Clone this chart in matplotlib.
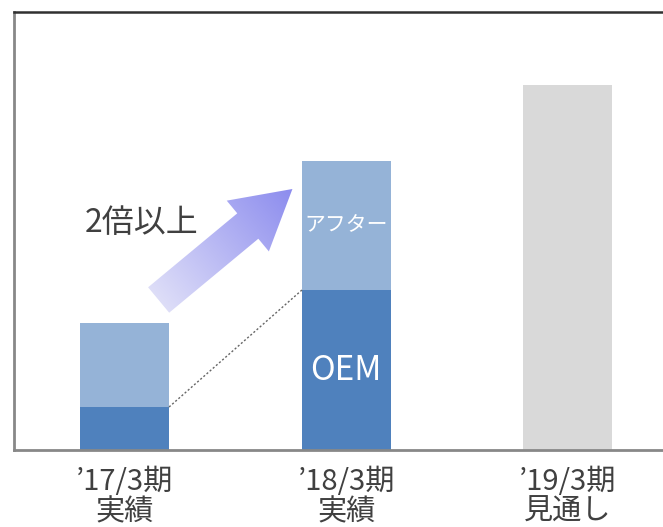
import matplotlib
matplotlib.use("Agg")
import matplotlib.pyplot as plt
import numpy as np
from matplotlib.patches import Polygon

plt.rcParams['font.family'] = ['Noto Sans CJK JP', 'DejaVu Sans']

categories = ["’17/3期\n実績", "’18/3期\n実績", "’19/3期\n見通し"]
oem = [43, 160, 0]
after = [84, 129, 0]
forecast = [0, 0, 365]
arrow_label = "2倍以上"
after_label = "アフター"
oem_label = "OEM"

C_OEM = "#4F81BD"
C_AFTER = "#95B3D7"
C_FC = "#D9D9D9"
TXT = "#404040"

fig = plt.figure(figsize=(6.63, 5.27), dpi=100)
ax = fig.add_axes([14/663, 77/527, 1 - 14/663, 438/527])
x = np.arange(len(categories))
w = 0.4
ax.bar(x[:2], oem[:2], width=w, color=C_OEM, zorder=2)
ax.bar(x[:2], after[:2], width=w, bottom=oem[:2], color=C_AFTER, zorder=2)
ax.bar(x[2], forecast[2], width=w, color=C_FC, zorder=2)

ax.set_xlim(-0.5, 2.43)
ax.set_ylim(0, 438)
ax.set_yticks([])
ax.set_xticks(x)
ax.set_xticklabels(categories, fontsize=21, color=TXT, linespacing=1.02)
ax.tick_params(axis='x', length=0, pad=12)
ax.spines['right'].set_visible(False)
ax.spines['top'].set_color('#303030')
ax.spines['top'].set_linewidth(1.8)
for s in ('left', 'bottom'):
    ax.spines[s].set_color('#888888')
    ax.spines[s].set_linewidth(2)

# dotted connector between OEM tops
ax.plot([x[0] + w/2, x[1] - w/2], [oem[0], oem[1]], linestyle=(0, (1.5, 1.5)),
        color='#666666', lw=1, zorder=3)

# labels in bars
ax.text(x[1], oem[1] + after[1] / 2, after_label, color='white', fontsize=15,
        ha='center', va='center', zorder=4)
ax.text(x[1], oem[1] / 2, oem_label, color='white', fontsize=24,
        ha='center', va='center', zorder=4)

# gradient arrow (built in display space)
fig.canvas.draw()
T = ax.transData
start = T.transform((x[0] + 0.153, 150))
end = T.transform((x[0] + 0.757, 261))
d = end - start
L = np.hypot(*d)
u = d / L
n = np.array([-u[1], u[0]])
shaft_hw, head_hw, head_len = 16.5, 33, 58
base = end - u * head_len
pts = np.array([
    start + n * shaft_hw,
    base + n * shaft_hw,
    base + n * head_hw,
    end,
    base - n * head_hw,
    base - n * shaft_hw,
    start - n * shaft_hw,
])
pts_data = T.inverted().transform(pts)
poly = Polygon(pts_data, closed=True, facecolor='none', edgecolor='none', zorder=3)
ax.add_patch(poly)
xmin, ymin = pts_data.min(axis=0)
xmax, ymax = pts_data.max(axis=0)
N = 200
gx, gy = np.meshgrid(np.linspace(0, 1, N), np.linspace(0, 1, N))
px = pts[:, 0].min() + gx * (pts[:, 0].max() - pts[:, 0].min())
py = pts[:, 1].min() + gy * (pts[:, 1].max() - pts[:, 1].min())
t = ((px - start[0]) * u[0] + (py - start[1]) * u[1]) / L
t = np.clip(t, 0, 1)
c0 = np.array([222, 222, 248]) / 255
c1 = np.array([140, 140, 238]) / 255
img = c0[None, None, :] * (1 - t[..., None]) + c1[None, None, :] * t[..., None]
im = ax.imshow(img, extent=(xmin, xmax, ymin, ymax), origin='lower',
               aspect='auto', zorder=3, interpolation='bilinear')
im.set_clip_path(poly)
ax.set_xlim(-0.5, 2.43)
ax.set_ylim(0, 438)

ax.text(x[0] - 0.18, 227, arrow_label, color=TXT, fontsize=23,
        ha='left', va='center', zorder=4)

fig.savefig("out.png", dpi=100)
